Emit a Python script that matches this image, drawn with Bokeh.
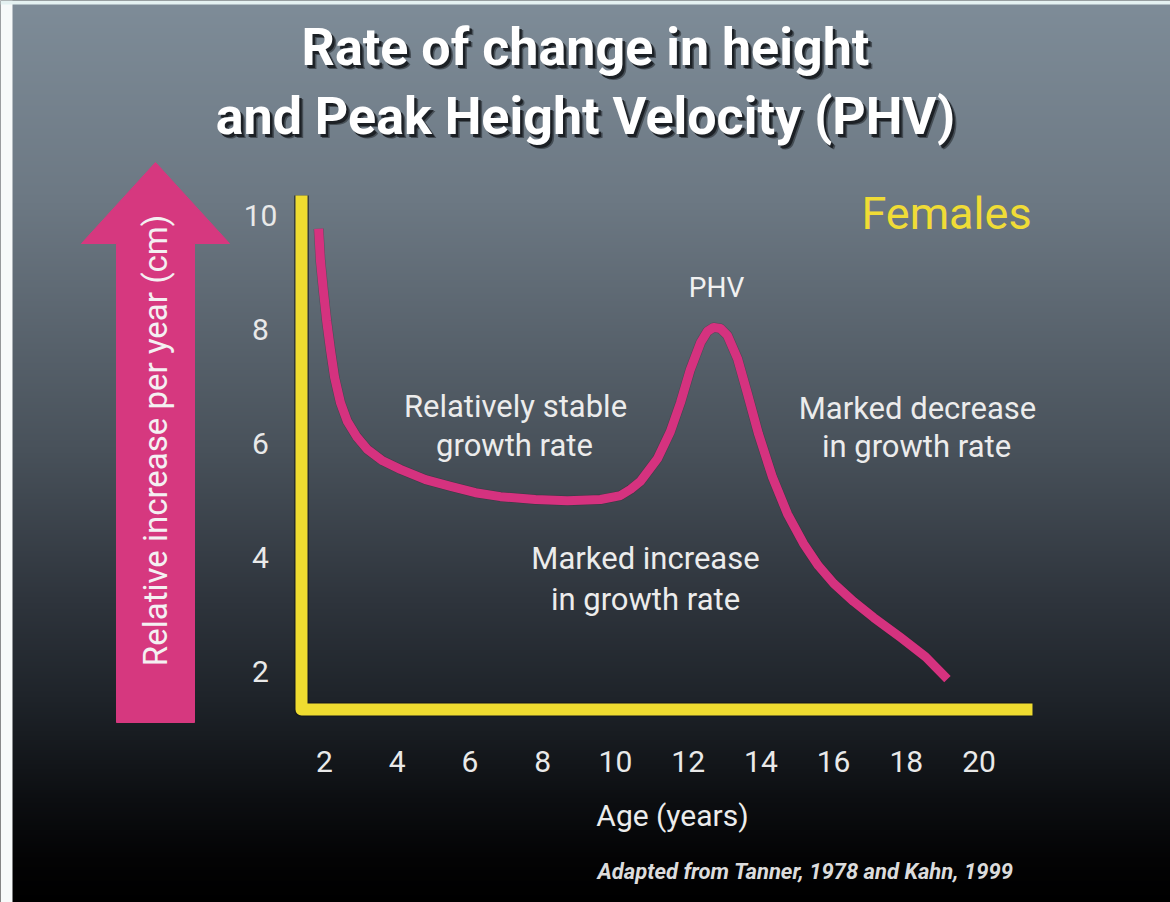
import numpy as np
from bokeh.plotting import figure
from bokeh.models import Range1d
from bokeh.core.properties import value
from bokeh.embed import file_html
from bokeh.resources import INLINE

# ---------------- data ----------------
TITLE_LINES = ["Rate of change in height", "and Peak Height Velocity (PHV)"]
SERIES_NAME = "Females"
Y_LABEL = "Relative increase per year (cm)"
X_LABEL = "Age (years)"
SOURCE_NOTE = "Adapted from Tanner, 1978 and Kahn, 1999"
PEAK_LABEL = "PHV"

X_TICKS = [2, 4, 6, 8, 10, 12, 14, 16, 18, 20]
Y_TICKS = [2, 4, 6, 8, 10]

AGE = [1.84, 1.89, 1.97, 2.06, 2.17, 2.28, 2.44, 2.63, 2.88, 3.18, 3.60, 4.09,
       4.78, 5.47, 6.15, 6.84, 7.80, 8.68, 9.59, 10.14, 10.42, 10.69, 11.16,
       11.51, 11.79, 12.06, 12.34, 12.53, 12.70, 12.89, 13.08, 13.36, 13.63,
       13.93, 14.32, 14.73, 15.17, 15.58, 16.00, 16.55, 17.10, 17.84, 18.53,
       19.13]
RATE = [9.76, 9.20, 8.68, 8.15, 7.62, 7.15, 6.71, 6.38, 6.12, 5.89, 5.69, 5.54,
        5.36, 5.24, 5.13, 5.06, 5.01, 4.99, 5.01, 5.08, 5.19, 5.33, 5.73,
        6.20, 6.71, 7.29, 7.76, 7.96, 8.03, 8.01, 7.89, 7.48, 6.87,
        6.17, 5.40, 4.76, 4.24, 3.85, 3.54, 3.22, 2.94, 2.59, 2.25,
        1.86]

PHASE_TEXT = [["Relatively stable", "growth rate"],
              ["Marked increase", "in growth rate"],
              ["Marked decrease", "in growth rate"]]

# ---------------- layout (reference page pixels) ----------------
W, H = 1170, 902
X_PX_AT_0, X_PX_PER_YEAR = 251.2, 36.37
Y_PX_AT_6, Y_PX_PER_CM = 442.6, 57.0


def ax(px):
    return (px - X_PX_AT_0) / X_PX_PER_YEAR


def ay(py):
    return 6 - (py - Y_PX_AT_6) / Y_PX_PER_CM


FONT = "Roboto, 'Liberation Sans', sans-serif"
PINK = "#d6387f"
LINE_PINK = "#d5327f"
YELLOW = "#efdc30"
WHITE = "#f1f1f1"

p = figure(width=W, height=H, x_range=Range1d(ax(0), ax(W)),
           y_range=Range1d(ay(H), ay(0)),
           output_backend="svg", toolbar_location=None, min_border=0,
           x_axis_location=None, y_axis_location=None)
p.grid.visible = False
p.outline_line_color = None
p.background_fill_color = "#000000"
p.border_fill_color = "#000000"

# ---- vertical gradient background ----
stops_py = [0, 200, 450, 600, 700, 800, 860, 902]
stops_rgb = [(126, 140, 152), (108, 120, 131), (72, 81, 90), (46, 52, 60),
             (30, 35, 41), (12, 14, 17), (3, 3, 4), (0, 0, 0)]
rows = np.arange(H)
py_rows = H - rows - 0.5
img = np.zeros((H, 2), dtype=np.uint32)
view = img.view(dtype=np.uint8).reshape((H, 2, 4))
for k in range(3):
    ch = np.interp(py_rows, stops_py, [c[k] for c in stops_rgb])
    view[:, :, k] = np.round(ch)[:, None].astype(np.uint8)
view[:, :, 3] = 255
p.image_rgba(image=[img], x=ax(0), y=ay(H), dw=ax(W) - ax(0), dh=ay(0) - ay(H))
# pale scan edges (left and top)
p.quad(left=ax(0), right=ax(12), bottom=ay(H), top=ay(0),
       fill_color="#f7fafa", line_color=None)
p.quad(left=ax(0), right=ax(W), bottom=ay(4), top=ay(0),
       fill_color="#e4f1f1", line_color=None)


def txt(x, y, s, size, color=WHITE, style="normal", align="center",
        angle=0.0, alpha=1.0):
    p.text(x=[x], y=[y], text=[s], text_font=value(FONT),
           text_font_size=value(f"{size}px"), text_font_style=style,
           text_color=color, text_alpha=alpha, text_align=align,
           text_baseline="middle", angle=angle)


# ---- title with drop shadow ----
title_pos = [(585, 47), (585, 116)]
for (cx, cy), line in zip(title_pos, TITLE_LINES):
    txt(ax(cx + 4), ay(cy + 4), line, 52, color="#15191d", style="bold", alpha=0.5)
    txt(ax(cx + 2.5), ay(cy + 2.5), line, 52, color="#15191d", style="bold", alpha=0.85)
    txt(ax(cx), ay(cy), line, 52, color="#ffffff", style="bold")

# ---- pink arrow with rotated y label ----
arrow_px = [155, 229, 194, 194, 116, 116, 81]
arrow_py = [162, 243, 243, 722, 722, 243, 243]
p.patch([ax(v) for v in arrow_px], [ay(v) for v in arrow_py],
        fill_color=PINK, line_color=PINK, line_width=1)
txt(ax(155), ay(440), Y_LABEL, 33, color="#f4f0f2", angle=np.pi / 2)

# ---- yellow L-shaped axes ----
axis_x = [ax(301), ax(301), ax(1032)]
axis_y = [ay(195), ay(709), ay(709)]
p.line(axis_x, axis_y, line_width=15, line_color="#15181b", line_alpha=0.6,
       line_join="round", line_cap="butt")
p.line(axis_x, axis_y, line_width=12, line_color=YELLOW,
       line_join="round", line_cap="butt")

# ---- tick labels ----
for v in Y_TICKS:
    txt(ax(260), v, str(v), 30, color="#e9e9e9")
for v in X_TICKS:
    txt(v, ay(761), str(v), 30, color="#e9e9e9")

# ---- curve ----
p.line(AGE, RATE, line_width=10, line_color="#3a1a2a", line_alpha=0.35,
       line_join="round", line_cap="butt")
p.line(AGE, RATE, line_width=9, line_color=LINE_PINK,
       line_join="round", line_cap="butt")

# ---- annotations ----
txt(ax(946), ay(213), SERIES_NAME, 45, color="#f0dc36")
txt(ax(716), ay(287), PEAK_LABEL, 28)
phase_pos = [[(515, 406), (514, 445)],
             [(645, 558), (645, 599)],
             [(917, 408), (916, 446)]]
for lines, poss in zip(PHASE_TEXT, phase_pos):
    for s, (cx, cy) in zip(lines, poss):
        txt(ax(cx), ay(cy), s, 31, color="#ececec")

txt(ax(672), ay(815), X_LABEL, 30, color="#ececec")
txt(ax(805), ay(871), SOURCE_NOTE, 22, color="#dcdcdc", style="bold italic")

open("out.html", "w").write(file_html(p, INLINE))
